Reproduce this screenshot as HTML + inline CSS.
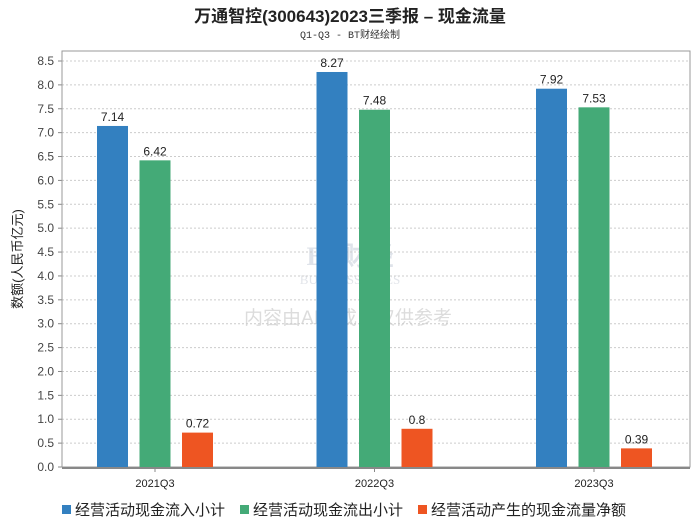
<!DOCTYPE html>
<html><head><meta charset="utf-8"><style>
body{margin:0;background:#fff;font-family:"Liberation Sans","Noto Sans CJK SC",sans-serif}
</style></head><body>
<svg id="c" width="700" height="524" xmlns="http://www.w3.org/2000/svg">
<text x="350" y="22" text-anchor="middle" font-size="17" font-weight="bold" fill="#222" font-family="Liberation Sans,Noto Sans CJK SC,sans-serif">万通智控(300643)2023三季报 – 现金流量</text>
<text x="350" y="38" text-anchor="middle" font-size="10" fill="#333" font-family="Liberation Mono,Noto Sans CJK SC,monospace">Q1-Q3 - BT财经绘制</text>
<text x="350" y="265" text-anchor="middle" font-size="26" font-weight="bold" fill="#dfe3ea" font-family="Liberation Serif,serif">BT财经</text>
<text x="350" y="284" text-anchor="middle" font-size="13" fill="#e2e5ea" font-family="Liberation Serif,serif">BUSINESSTIMES</text>
<text x="348" y="324" text-anchor="middle" font-size="19" fill="#dcdcdc">内容由AI生成，仅供参考</text>
<text transform="translate(22,259) rotate(-90)" text-anchor="middle" font-size="13" fill="#222">数额(人民币亿元)</text>
<g id="g"></g>
</svg>
<script>
const categories=["2021Q3","2022Q3","2023Q3"];
const seriesNames=["经营活动现金流入小计","经营活动现金流出小计","经营活动产生的现金流量净额"];
const inflow=[7.14,8.27,7.92];
const outflow=[6.42,7.48,7.53];
const net=[0.72,0.8,0.39];
const labels=[["7.14","8.27","7.92"],["6.42","7.48","7.53"],["0.72","0.8","0.39"]];
const yTicks=["0.0","0.5","1.0","1.5","2.0","2.5","3.0","3.5","4.0","4.5","5.0","5.5","6.0","6.5","7.0","7.5","8.0","8.5"];
const colors=["#3380c0","#44aa77","#ee5522"];
const series=[inflow,outflow,net];
const NS="http://www.w3.org/2000/svg",g=document.getElementById("g");
const L=62,R=690,T=51,B=467;
const y=v=>B-v*(B-61)/8.5;
const x=i=>155+i*219.5;
function mk(t,a){const e=document.createElementNS(NS,t);for(const k in a)e.setAttribute(k,a[k]);g.appendChild(e);return e;}
yTicks.forEach(t=>{const v=+t,yy=y(v);
 if(v>0){const l=mk("line",{x1:L,x2:R,y1:yy,y2:yy,stroke:"#ccc","stroke-dasharray":"2,2"});
 
 }
 const tk=mk("line",{x1:L-4,x2:L,y1:yy,y2:yy,stroke:"#888"});
 
 
 const tx=mk("text",{x:L-8,y:yy+4,"text-anchor":"end","font-size":"12",fill:"#444"});tx.textContent=t;
 
 
});
const fr=mk("rect",{x:L,y:T,width:R-L,height:B-T,fill:"none",stroke:"#999"});


const ax=mk("line",{x1:L,x2:R,y1:B+1,y2:B+1,stroke:"#888","stroke-width":"2"});


categories.forEach((c,i)=>{
 const tk=mk("line",{x1:x(i),x2:x(i),y1:B+2,y2:B+5,stroke:"#888"});
 
 
 const t=mk("text",{x:x(i),y:B+20,"text-anchor":"middle","font-size":"11",fill:"#222"});t.textContent=c;
 
 
 series.forEach((s,j)=>{
  const cx=x(i)+(j-1)*42.5,w=31;
  const r=mk("rect",{x:cx-w/2,y:y(s[i]),width:w,height:B-y(s[i]),fill:colors[j]});
  
  
  const lt=mk("text",{x:cx,y:y(s[i])-5,"text-anchor":"middle","font-size":"12",fill:"#222"});lt.textContent=labels[j][i];
  
  
 });
});
const lxs=[62,240,418];
seriesNames.forEach((n,j)=>{
 const lx=lxs[j];
 const sq=mk("rect",{x:lx,y:505,width:9,height:9,fill:colors[j]});
 
 
 const t=mk("text",{x:lx+13,y:515,"font-size":"15",fill:"#222"});t.textContent=n;
 
 
});
</script>
</body></html>
